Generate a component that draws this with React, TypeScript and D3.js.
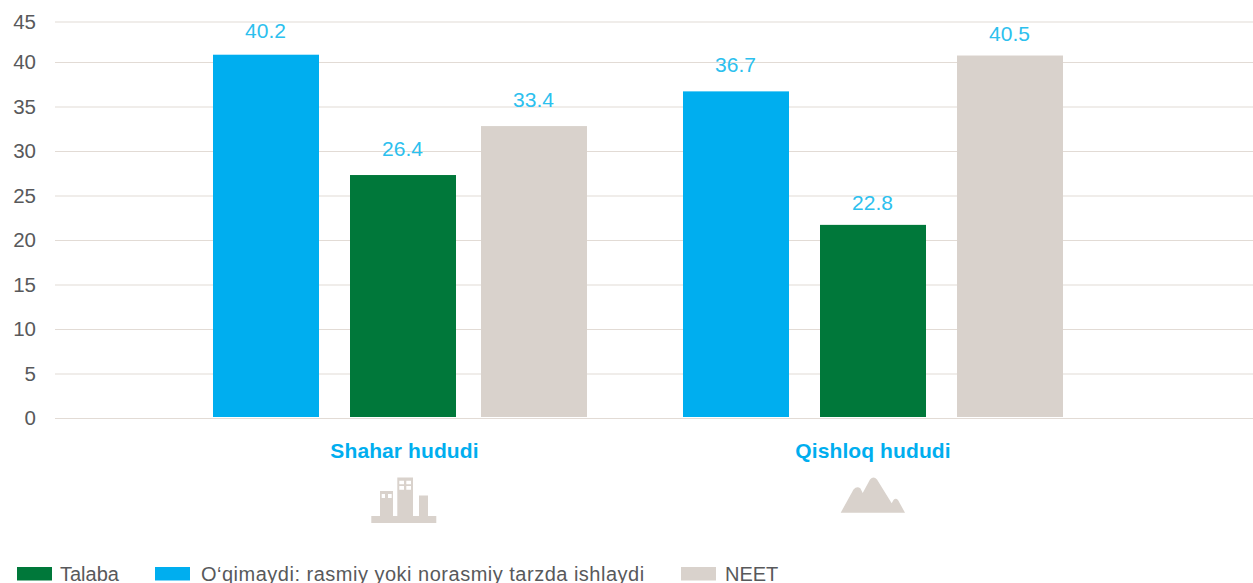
import React, { useEffect, useRef } from 'react';
import * as d3 from 'd3';

const width = 1253;
const height = 583;
const margin = { left: 55 };

const categories = ['Shahar hududi', 'Qishloq hududi'];
const series = ['Ishlaydi', 'Talaba', 'NEET'];
const yTicks = [0, 5, 10, 15, 20, 25, 30, 35, 40, 45];

// bar heights as drawn in the picture, they differ a bit from the printed labels
const ishlaydiBars = [40.9, 36.7];
const talabaBars = [27.3, 21.7];
const neetBars = [32.8, 40.8];

const ishlaydiLabels = ['40.2', '36.7'];
const talabaLabels = ['26.4', '22.8'];
const neetLabels = ['33.4', '40.5'];

const legendItems = ['Talaba', 'O‘qimaydi: rasmiy yoki norasmiy tarzda ishlaydi', 'NEET'];

const BLUE = '#00aeef';
const GREEN = '#00783a';
const BEIGE = '#d9d2cc';
const GRID = '#e2dbd5';
const TEXT = '#58595b';
const LABEL = '#2cc0ee';
const FONT = '"Liberation Sans", Arial, sans-serif';

const App = () => {
  const svgRef = useRef(null);

  useEffect(() => {
    const svg = d3.select(svgRef.current);
    svg.selectAll('*').remove();

    // the top interval of the source axis is squeezed, so the scale has a knee at 40
    const y = d3.scaleLinear()
      .domain([0, 40, 45])
      .range([418, 62, 21.5]);

    const x = d3.scaleBand()
      .domain(categories)
      .range([165, 1105]);

    const inner = d3.scaleOrdinal()
      .domain(series)
      .range([48, 185, 316]);

    const color = d3.scaleOrdinal()
      .domain(series)
      .range([BLUE, GREEN, BEIGE]);

    // grid + y axis
    const axis = svg.append('g')
      .attr('transform', `translate(${margin.left}, 0)`)
      .call(d3.axisLeft(y).tickValues(yTicks).tickSize(-(width - margin.left)).tickPadding(19));
    axis.select('.domain').remove();
    axis.selectAll('line').attr('stroke', GRID).attr('stroke-width', 1.2);
    axis.selectAll('text')
      .attr('fill', TEXT)
      .attr('font-family', FONT)
      .attr('font-size', 20.5)
      .attr('dy', '0.34em');

    const barWidth = 106;
    const labelLift = [[17, 19], [19, 15], [19, 15]];
    // gap before the last bar is wider in the second group
    const groupNudge = [[0, 0], [0, 0], [0, 6]];

    const rows = [
      { name: series[0], bars: ishlaydiBars, labels: ishlaydiLabels },
      { name: series[1], bars: talabaBars, labels: talabaLabels },
      { name: series[2], bars: neetBars, labels: neetLabels },
    ];

    rows.forEach((row, s) => {
      categories.forEach((cat, i) => {
        const left = x(cat) + inner(row.name) + groupNudge[s][i];
        const top = y(row.bars[i]);
        svg.append('rect')
          .attr('x', left)
          .attr('y', top)
          .attr('width', barWidth)
          .attr('height', y(0) - 1 - top)
          .attr('fill', color(row.name));
        svg.append('text')
          .attr('x', left + barWidth / 2 - 0.5)
          .attr('y', top - labelLift[s][i])
          .attr('text-anchor', 'middle')
          .attr('font-family', FONT)
          .attr('font-size', 21)
          .attr('fill', LABEL)
          .text(row.labels[i]);
      });
    });

    // category names
    svg.selectAll('.cat')
      .data(categories)
      .join('text')
      .attr('class', 'cat')
      .attr('x', (d, i) => x(d) + x.bandwidth() / 2 + (i === 0 ? 4.5 : 3))
      .attr('y', 458)
      .attr('text-anchor', 'middle')
      .attr('font-family', FONT)
      .attr('font-size', 21)
      .attr('font-weight', 700)
      .attr('letter-spacing', 0.1)
      .attr('fill', BLUE)
      .text(d => d);

    // legend
    const legendColors = [GREEN, BLUE, BEIGE];
    const legendX = [17, 155, 681];
    const legendTextX = [60, 201, 725];
    const legendSpacing = [0, 0.5, 0];
    legendItems.forEach((name, i) => {
      svg.append('rect')
        .attr('x', legendX[i])
        .attr('y', 567)
        .attr('width', 35)
        .attr('height', 13.5)
        .attr('fill', legendColors[i]);
      svg.append('text')
        .attr('x', legendTextX[i])
        .attr('y', 581)
        .attr('font-family', FONT)
        .attr('font-size', 20)
        .attr('letter-spacing', legendSpacing[i])
        .attr('fill', TEXT)
        .text(name);
    });
  }, []);

  return (
    <svg
      width={width}
      height={height}
      style={{ position: 'absolute', left: 0, top: 0, background: '#fff' }}
    >
      <g ref={svgRef} />
      {/* city icon */}
      <path
        fill={BEIGE}
        fillRule="evenodd"
        d="M371.3 516H380V491H393V516H397.3V477.5H413V516H419V495.5H428V516H436.3V523H371.3Z
           M381.7 494V498H385V494Z M388 494V498H391.7V494Z
           M399.3 480.7V484.3H404V480.7Z M406.3 480.7V484.3H411V480.7Z
           M399.3 486V489.7H404V486Z M406.3 486V489.7H411V486Z"
      />
      {/* mountain icon */}
      <path
        fill={BEIGE}
        d="M840.7 512.7L853.5 489.5Q857 485.5 860.5 488.5L862.7 493L870 479.5Q873.5 475.5 877 479.5L891.7 503.3L893.5 500Q895.7 497.5 898 500L905 512.7Z"
      />
    </svg>
  );
};

export default App;
